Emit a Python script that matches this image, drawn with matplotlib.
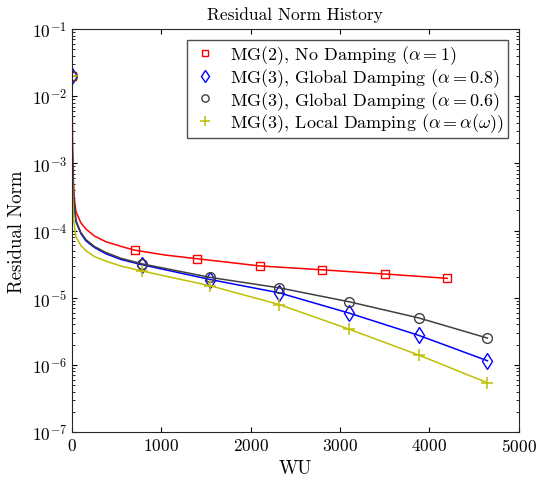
import matplotlib
matplotlib.use("Agg")
from matplotlib import pyplot as plt

plt.rcParams['font.family'] = 'serif'
plt.rcParams['font.serif'] = ['cmr10', 'DejaVu Serif']
plt.rcParams['mathtext.fontset'] = 'cm'
plt.rcParams['axes.formatter.use_mathtext'] = True

# line data (WU, residual norm)
red_wu = [0, 8, 15, 26, 45, 100, 157, 250, 380, 550, 700, 1050, 1400, 2100, 2800, 3500, 4200]
red_res = [2e-2, 1.5e-3, 6e-4, 3e-4, 1.9e-4, 1.3e-4, 1.05e-4, 8.3e-5, 6.8e-5, 5.8e-5,
           5.1e-5, 4.3e-5, 3.8e-5, 2.97e-5, 2.6e-5, 2.25e-5, 1.94e-5]
red_marks = [0, 10, 12, 13, 14, 15, 16]

mg3_wu = [0, 4, 10, 20, 45, 100, 157, 250, 380, 550, 780, 1550, 2320, 3100, 3880, 4650]
blue_res = [2e-2, 1.5e-3, 6e-4, 2.8e-4, 1.35e-4, 9e-5, 7e-5, 5.6e-5, 4.5e-5, 3.7e-5,
            3.1e-5, 1.86e-5, 1.18e-5, 5.9e-6, 2.75e-6, 1.15e-6]
black_res = [2e-2, 1.6e-3, 6.5e-4, 3e-4, 1.4e-4, 9.3e-5, 7.3e-5, 5.8e-5, 4.7e-5, 3.85e-5,
             3.2e-5, 2.0e-5, 1.4e-5, 8.7e-6, 5.0e-6, 2.5e-6]
yellow_res = [2e-2, 7e-4, 3e-4, 1.4e-4, 8e-5, 6e-5, 5e-5, 4.1e-5, 3.5e-5, 2.95e-5,
              2.5e-5, 1.5e-5, 7.9e-6, 3.4e-6, 1.4e-6, 5.4e-7]
mg3_marks = [0, 10, 11, 12, 13, 14, 15]

labels = [r'MG(2), No Damping ($\alpha = 1$)',
          r'MG(3), Global Damping ($\alpha = 0.8$)',
          r'MG(3), Global Damping ($\alpha = 0.6$)',
          r'MG(3), Local Damping ($\alpha = \alpha(\omega)$)']

fig = plt.figure(figsize=(5.37, 4.81), dpi=100)
ax = fig.add_axes([0.134, 0.0998, 0.832, 0.8378])

ax.semilogy(red_wu, red_res, color='red', lw=1.1, marker='s', markevery=red_marks,
            mfc='none', ms=6, label=labels[0])
ax.semilogy(mg3_wu, blue_res, color='blue', lw=1.1, marker='d', markevery=mg3_marks,
            mfc='none', ms=8, label=labels[1])
ax.semilogy(mg3_wu, black_res, color='#404040', lw=1.1, marker='o', markevery=mg3_marks,
            mfc='none', ms=7, label=labels[2])
ax.semilogy(mg3_wu, yellow_res, color='#bfbf00', lw=1.1, marker='+', markevery=mg3_marks,
            ms=9, mew=1.1, label=labels[3])

ax.set_xlim(0, 5000)
ax.set_ylim(1e-7, 1e-1)
ax.set_xticks([0, 1000, 2000, 3000, 4000, 5000])
ax.tick_params(which='both', direction='in', top=True, right=True, labelsize=12.5)
for s in ax.spines.values():
    s.set_color('#262626')

ax.set_title('Residual Norm History', fontsize=12.5, pad=7)
ax.set_xlabel('WU', fontsize=13.5)
ax.set_ylabel('Residual Norm', fontsize=13.5)

leg = ax.legend(loc='upper right', fontsize=13, fancybox=False, edgecolor='#262626',
                borderaxespad=0.6, handlelength=1.6, handletextpad=0.6,
                labelspacing=0.0, borderpad=0.2, markerscale=0.75)
leg.get_frame().set_linewidth(1.0)
for ln in leg.get_lines():
    ln.set_linestyle('none')

fig.savefig('out.png', dpi=100)
